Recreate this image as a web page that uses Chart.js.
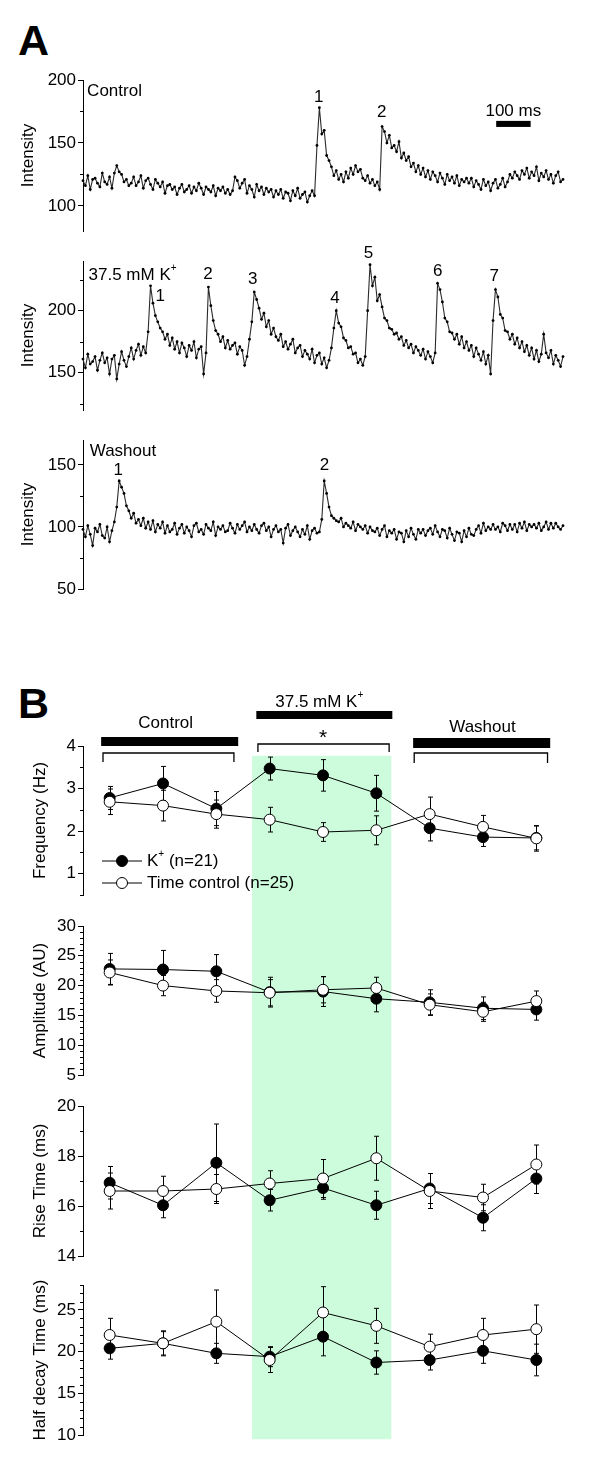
<!DOCTYPE html>
<html>
<head>
<meta charset="utf-8">
<title>Spark traces and summary</title>
<script src="https://cdn.jsdelivr.net/npm/chart.js@4.4.1/dist/chart.umd.min.js"></script>
<style>
  html, body { margin: 0; padding: 0; background: #fff; }
  body { position: relative; width: 600px; height: 1469px; overflow: hidden; font-family: "Liberation Sans", Arial, sans-serif; }
  .letter { position: absolute; left: 18px; font-size: 43px; font-weight: bold; line-height: 1; }
  .plot { position: absolute; left: 0; width: 600px; }
  .plot canvas { display: block; }
</style>
</head>
<body>
<div class="letter" style="top:19px">A</div>
<div class="letter" style="top:682px">B</div>

<div class="plot" style="top:60px"><canvas id="traceControl" width="600" height="185"></canvas></div>
<div class="plot" style="top:245px"><canvas id="traceK" width="600" height="180"></canvas></div>
<div class="plot" style="top:425px"><canvas id="traceWash" width="600" height="185"></canvas></div>

<div class="plot" style="top:660px"><canvas id="freq" width="600" height="250"></canvas></div>
<div class="plot" style="top:910px"><canvas id="amp" width="600" height="180"></canvas></div>
<div class="plot" style="top:1090px"><canvas id="rise" width="600" height="180"></canvas></div>
<div class="plot" style="top:1270px"><canvas id="decay" width="600" height="199"></canvas></div>

<script>
// ---- panel A: fluorescence traces, one sample every 7 ms ----
var sampleMs = 7;

var controlTrace = [
  120,116,124,113,121,122,118,115,126,119,117,123,114,126,132,127,125,119,121,116,
  118,123,116,119,124,114,120,122,117,113,121,118,115,119,110,116,117,113,115,109,
  114,117,111,113,116,110,115,112,118,114,109,115,113,111,116,108,114,112,115,110,
  113,109,112,123,120,114,118,121,110,116,113,107,117,112,115,109,114,111,113,107,
  112,109,113,106,111,110,104,112,108,114,106,109,111,103,108,112,108,148,178,157,
  160,140,136,131,124,128,121,125,119,127,122,130,125,132,127,129,122,120,124,118,
  121,116,119,113,163,159,150,156,146,148,143,151,138,142,136,139,131,134,127,132,
  125,130,123,128,121,127,124,119,126,122,117,125,120,123,118,124,116,121,119,122,
  118,122,115,120,117,113,121,116,119,112,118,121,114,117,122,115,119,125,122,127,
  124,121,128,125,130,122,127,124,131,120,126,123,128,121,125,118,124,127,119,121
];

var potassiumTrace = [
  161,154,165,157,159,163,152,160,166,158,162,149,161,164,145,157,167,160,155,163,
  170,161,168,173,164,171,166,183,220,206,196,191,186,183,177,181,172,178,169,175,
  166,174,170,163,172,168,175,162,169,171,149,166,219,204,192,184,181,175,179,170,
  176,169,172,174,165,171,168,156,163,177,191,215,209,202,193,198,187,192,181,186,
  179,176,181,171,175,169,173,177,166,170,172,163,168,165,161,169,158,164,166,157,
  162,154,160,170,186,200,190,187,178,176,170,171,165,166,158,161,156,163,200,237,
  220,227,208,213,203,194,192,186,185,181,182,177,179,172,176,170,173,166,171,168,
  164,169,161,167,163,158,166,222,217,207,194,191,183,182,177,181,173,179,170,175,
  168,172,163,170,165,160,167,157,164,149,192,217,211,197,194,184,183,177,181,173,
  178,170,175,167,172,164,170,161,168,159,165,181,166,162,168,157,164,160,155,163
];

var washoutTrace = [
  98,92,101,94,85,99,96,102,93,91,100,88,97,104,116,137,132,127,117,113,
  107,111,103,106,101,107,99,104,98,105,96,102,99,104,95,101,96,98,103,94,
  99,102,95,100,97,92,101,103,96,98,94,102,99,97,104,93,100,98,101,96,
  97,103,99,95,102,98,101,104,96,100,97,102,98,95,101,103,97,100,92,98,
  101,96,98,87,99,102,93,97,100,96,92,98,94,101,90,97,99,95,96,106,
  137,127,116,109,107,105,104,107,100,103,101,99,104,97,102,100,98,101,95,100,
  97,96,99,93,98,101,92,97,95,98,90,96,95,88,97,92,99,94,90,98,
  95,98,93,97,99,94,101,96,92,98,97,91,99,94,89,96,95,88,97,92,
  99,94,93,98,101,95,103,97,100,98,102,98,100,96,103,101,97,102,98,102,
  96,103,99,104,97,102,100,102,99,103,97,100,104,98,103,99,103,100,98,101
];

// ---- panel B: means and SEM at nine time points ----
var timePoints = [1, 2, 3, 4, 5, 6, 7, 8, 9];

var freqK      = [2.78, 3.12, 2.53, 3.47, 3.31, 2.89, 2.07, 1.86, 1.84];
var freqKErr   = [0.27, 0.40, 0.40, 0.27, 0.37, 0.42, 0.30, 0.22, 0.28];
var freqT      = [2.69, 2.60, 2.40, 2.27, 1.98, 2.02, 2.40, 2.10, 1.83];
var freqTErr   = [0.30, 0.36, 0.33, 0.29, 0.22, 0.34, 0.40, 0.27, 0.30];

var ampK       = [22.8, 22.7, 22.4, 18.9, 19.0, 17.8, 17.2, 16.2, 16.0];
var ampKErr    = [2.6, 3.2, 2.8, 2.5, 2.5, 2.2, 2.1, 1.9, 1.8];
var ampT       = [22.2, 20.0, 19.1, 18.8, 19.3, 19.6, 16.8, 15.6, 17.4];
var ampTErr    = [2.1, 1.7, 1.9, 2.2, 2.2, 1.8, 1.8, 1.6, 1.7];

var riseK      = [16.93, 16.03, 17.73, 16.23, 16.72, 16.03, 16.70, 15.53, 17.10];
var riseKErr   = [0.65, 0.50, 1.55, 0.43, 0.45, 0.56, 0.60, 0.52, 0.60];
var riseT      = [16.60, 16.60, 16.68, 16.90, 17.10, 17.91, 16.60, 16.34, 17.66];
var riseTErr   = [0.72, 0.59, 0.58, 0.51, 0.76, 0.88, 0.70, 0.53, 0.78];

var decayK     = [20.4, 21.0, 19.8, 19.4, 21.8, 18.7, 19.0, 20.1, 19.0];
var decayKErr  = [1.3, 1.4, 1.2, 1.2, 2.3, 1.4, 1.2, 1.5, 1.9];
var decayT     = [22.0, 21.0, 23.6, 19.0, 24.7, 23.1, 20.6, 22.0, 22.7];
var decayTErr  = [2.0, 1.5, 3.8, 1.5, 3.1, 2.1, 1.5, 2.0, 2.9];

// tick labels
var ticksControl = [100, 150, 200];
var ticksK = [150, 200];
var ticksWash = [50, 100, 150];
var ticksFreq = [1, 2, 3, 4];
var ticksAmp = [5, 10, 15, 20, 25, 30];
var ticksRise = [14, 16, 18, 20];
var ticksDecay = [10, 15, 20, 25];

var FONT = '"Liberation Sans", Arial, sans-serif';
Chart.defaults.font.family = FONT;
Chart.defaults.font.size = 17;
Chart.defaults.color = '#000';

function between(a, b, step, skip) {
  var out = [];
  for (var v = a; v <= b + 1e-9; v += step) {
    if (skip.indexOf(v) < 0) out.push(v);
  }
  return out;
}

// text with superscripts: odd entries of segs are raised
function drawRich(ctx, segs, x, y, align, size) {
  var small = Math.round(size * 0.6);
  var widths = segs.map(function (s, i) {
    ctx.font = (i % 2 ? small : size) + 'px ' + FONT;
    return ctx.measureText(s).width;
  });
  var total = widths.reduce(function (a, b) { return a + b; }, 0);
  var cx = align === 'center' ? x - total / 2 : x;
  ctx.textAlign = 'left';
  ctx.textBaseline = 'middle';
  segs.forEach(function (s, i) {
    ctx.font = (i % 2 ? small : size) + 'px ' + FONT;
    ctx.fillText(s, cx, i % 2 ? y - size * 0.4 : y);
    cx += widths[i];
  });
}

var minorTicks = {
  id: 'minorTicks',
  afterDraw: function (chart, args, opts) {
    var ctx = chart.ctx, ys = chart.scales.y, x0 = chart.chartArea.left;
    ctx.save();
    ctx.strokeStyle = '#000';
    ctx.lineWidth = 1;
    ctx.beginPath();
    (opts.values || []).forEach(function (v) {
      var py = Math.round(ys.getPixelForValue(v)) + 0.5;
      ctx.moveTo(x0 - 3, py);
      ctx.lineTo(x0, py);
    });
    ctx.stroke();
    ctx.restore();
  }
};

function yAxis(o) {
  return {
    min: o.min,
    max: o.max,
    afterFit: function (s) { s.width = 83; },
    afterBuildTicks: function (s) { s.ticks = o.majors.map(function (v) { return { value: v }; }); },
    ticks: { padding: 2, color: '#000', callback: function (v) { return String(v); } },
    grid: { drawOnChartArea: false, drawTicks: true, tickLength: 5, color: '#000', lineWidth: 1 },
    border: { display: true, color: '#000', width: 1 },
    title: { display: true, text: o.title, color: '#000', padding: { top: o.titlePad, bottom: 0 } }
  };
}

// ---- panel A ----
var traceNotes = {
  id: 'traceNotes',
  afterDraw: function (chart, args, opts) {
    var ctx = chart.ctx, xs = chart.scales.x, ys = chart.scales.y;
    ctx.save();
    ctx.fillStyle = '#000';
    (opts.items || []).forEach(function (n) {
      drawRich(ctx, n.segs, xs.getPixelForValue(n.x), ys.getPixelForValue(n.y), n.align || 'center', 17);
    });
    if (opts.bar) {
      var b = opts.bar;
      var x1 = xs.getPixelForValue(b.from), x2 = xs.getPixelForValue(b.from + b.ms / sampleMs);
      var y1 = ys.getPixelForValue(b.top), y2 = ys.getPixelForValue(b.bottom);
      ctx.fillRect(x1, y1, x2 - x1, y2 - y1);
    }
    ctx.restore();
  }
};

function traceChart(id, values, o) {
  return new Chart(document.getElementById(id), {
    type: 'line',
    data: {
      labels: values.map(function (v, i) { return i * sampleMs; }),
      datasets: [{
        data: values,
        borderColor: '#2a2a2a',
        borderWidth: 1.1,
        pointRadius: 1.4,
        pointBackgroundColor: '#000',
        pointBorderWidth: 0,
        tension: 0
      }]
    },
    options: {
      responsive: false,
      animation: false,
      events: [],
      layout: { padding: { top: o.padTop, bottom: o.padBottom, left: 0, right: 37 } },
      plugins: {
        legend: { display: false },
        tooltip: { enabled: false },
        minorTicks: { values: o.minors },
        traceNotes: { items: o.notes, bar: o.bar }
      },
      scales: {
        x: { display: false },
        y: yAxis({ min: o.min, max: o.max, majors: o.majors, title: 'Intensity', titlePad: 18 })
      }
    },
    plugins: [minorTicks, traceNotes]
  });
}

traceChart('traceControl', controlTrace, {
  min: 80, max: 200, majors: ticksControl, minors: [125, 175], padTop: 20, padBottom: 14,
  notes: [
    { segs: ['Control'], x: 1.7, y: 191.3, align: 'left' },
    { segs: ['1'], x: 97.7, y: 186.5 },
    { segs: ['2'], x: 123.8, y: 174.6 },
    { segs: ['100 ms'], x: 178.4, y: 175.4 }
  ],
  bar: { from: 171.3, ms: 100, top: 167.5, bottom: 162.7 }
});

traceChart('traceK', potassiumTrace, {
  min: 120, max: 240, majors: ticksK, minors: [125, 175, 225], padTop: 16, padBottom: 15,
  notes: [
    { segs: ['37.5 mM K', '+'], x: 2.3, y: 228.8, align: 'left' },
    { segs: ['1'], x: 32.0, y: 211.2 },
    { segs: ['2'], x: 51.8, y: 229.6 },
    { segs: ['3'], x: 70.4, y: 225.6 },
    { segs: ['4'], x: 104.5, y: 209.6 },
    { segs: ['5'], x: 118.4, y: 246.4 },
    { segs: ['6'], x: 147.1, y: 232.0 },
    { segs: ['7'], x: 170.5, y: 228.0 }
  ]
});

traceChart('traceWash', washoutTrace, {
  min: 50, max: 170, majors: ticksWash, minors: [75, 125], padTop: 15, padBottom: 21,
  notes: [
    { segs: ['Washout'], x: 2.8, y: 161.1, align: 'left' },
    { segs: ['1'], x: 14.6, y: 145.8 },
    { segs: ['2'], x: 100.1, y: 149.9 }
  ]
});

// ---- panel B ----
var greenBand = {
  id: 'greenBand',
  beforeDraw: function (chart, args, opts) {
    var ctx = chart.ctx, xs = chart.scales.x, ys = chart.scales.y;
    var x1 = xs.getPixelForValue(opts.from), x2 = xs.getPixelForValue(opts.to);
    var y1 = opts.top == null ? 0 : ys.getPixelForValue(opts.top);
    var y2 = opts.bottom == null ? chart.height : ys.getPixelForValue(opts.bottom);
    ctx.save();
    ctx.fillStyle = '#ccfcdc';
    ctx.fillRect(x1, y1, x2 - x1, y2 - y1);
    ctx.restore();
  }
};

var errorBars = {
  id: 'errorBars',
  beforeDatasetsDraw: function (chart) {
    var ctx = chart.ctx, xs = chart.scales.x, ys = chart.scales.y;
    ctx.save();
    ctx.strokeStyle = '#000';
    ctx.lineWidth = 1;
    chart.data.datasets.forEach(function (ds) {
      ds.data.forEach(function (p, i) {
        var e = ds.errors[i];
        var px = Math.round(xs.getPixelForValue(p.x)) + 0.5;
        var y1 = ys.getPixelForValue(p.y + e), y2 = ys.getPixelForValue(p.y - e);
        ctx.beginPath();
        ctx.moveTo(px, y1); ctx.lineTo(px, y2);
        ctx.moveTo(px - 2.5, y1); ctx.lineTo(px + 2.5, y1);
        ctx.moveTo(px - 2.5, y2); ctx.lineTo(px + 2.5, y2);
        ctx.stroke();
      });
    });
    ctx.restore();
  }
};

// period bars, brackets, titles and legend above / inside the frequency plot
var periodNotes = {
  id: 'periodNotes',
  afterDraw: function (chart, args, opts) {
    if (!opts.show) return;
    var ctx = chart.ctx, xs = chart.scales.x, top = chart.chartArea.top, left = chart.chartArea.left;
    ctx.save();
    ctx.fillStyle = '#000';
    ctx.strokeStyle = '#000';
    opts.bars.forEach(function (b) {
      var x1 = xs.getPixelForValue(b.from), x2 = xs.getPixelForValue(b.to);
      ctx.fillRect(x1, top + b.y1, x2 - x1, b.y2 - b.y1);
    });
    ctx.lineWidth = 1.3;
    opts.brackets.forEach(function (b) {
      var x1 = xs.getPixelForValue(b.from), x2 = xs.getPixelForValue(b.to), y = top + b.y;
      ctx.beginPath();
      ctx.moveTo(x1, y + b.drop); ctx.lineTo(x1, y); ctx.lineTo(x2, y); ctx.lineTo(x2, y + b.drop);
      ctx.stroke();
    });
    opts.texts.forEach(function (t) {
      drawRich(ctx, t.segs, xs.getPixelForValue(t.x), top + t.dy, 'center', t.size || 17);
    });
    // legend
    chart.data.datasets.slice().reverse().forEach(function (ds, i) {
      var y = top + opts.legendRows[i];
      ctx.lineWidth = 1;
      ctx.beginPath();
      ctx.moveTo(left + 19, y); ctx.lineTo(left + 59, y);
      ctx.stroke();
      ctx.beginPath();
      ctx.arc(left + 39, y, 5.5, 0, Math.PI * 2);
      ctx.fillStyle = ds.pointBackgroundColor;
      ctx.fill();
      ctx.stroke();
      ctx.fillStyle = '#000';
      drawRich(ctx, ds.legendSegs, left + 64, y, 'left', 17);
    });
    ctx.restore();
  }
};

function points(values) {
  return timePoints.map(function (t, i) { return { x: t, y: values[i] }; });
}

function summaryChart(id, k, kErr, t, tErr, o) {
  return new Chart(document.getElementById(id), {
    type: 'line',
    data: {
      datasets: [{
        label: 'Time control (n=25)',
        legendSegs: ['Time control (n=25)'],
        data: points(t),
        errors: tErr,
        borderColor: '#000',
        borderWidth: 1,
        pointRadius: 5.5,
        pointBackgroundColor: '#fff',
        pointBorderColor: '#000',
        pointBorderWidth: 1
      }, {
        label: 'K+ (n=21)',
        legendSegs: ['K', '+', ' (n=21)'],
        data: points(k),
        errors: kErr,
        borderColor: '#000',
        borderWidth: 1,
        pointRadius: 5.5,
        pointBackgroundColor: '#000',
        pointBorderColor: '#000',
        pointBorderWidth: 1
      }]
    },
    options: {
      responsive: false,
      animation: false,
      events: [],
      layout: { padding: { top: o.padTop, bottom: o.padBottom, left: 0, right: 37 } },
      plugins: {
        legend: { display: false },
        tooltip: { enabled: false },
        minorTicks: { values: o.minors },
        greenBand: { from: 3.67, to: 6.28, top: o.bandTop, bottom: o.bandBottom },
        periodNotes: o.notes || { show: false }
      },
      scales: {
        x: { type: 'linear', min: 0.5, max: 9.5, display: false },
        y: yAxis({ min: o.min, max: o.max, majors: o.majors, title: o.title, titlePad: 30 })
      }
    },
    plugins: [greenBand, errorBars, minorTicks, periodNotes]
  });
}

summaryChart('freq', freqK, freqKErr, freqT, freqTErr, {
  title: 'Frequency (Hz)', min: 0.5, max: 4, majors: ticksFreq, minors: [0.5, 1.5, 2.5, 3.5],
  padTop: 86, padBottom: 15, bandTop: 3.77, bandBottom: null,
  notes: {
    show: true,
    bars: [
      { from: 0.84, to: 3.41, y1: -9, y2: 0 },
      { from: 3.75, to: 6.30, y1: -35, y2: -27 },
      { from: 6.69, to: 9.26, y1: -8, y2: 2 }
    ],
    brackets: [
      { from: 0.875, to: 3.33, y: 7, drop: 9 },
      { from: 3.78, to: 6.24, y: -2, drop: 8 },
      { from: 6.71, to: 9.21, y: 7, drop: 10 }
    ],
    texts: [
      { segs: ['Control'], x: 2.05, dy: -23 },
      { segs: ['37.5 mM K', '+'], x: 4.93, dy: -44 },
      { segs: ['Washout'], x: 7.99, dy: -19 },
      { segs: ['*'], x: 5.0, dy: -8, size: 21 }
    ],
    legendRows: [115, 137]
  }
});

summaryChart('amp', ampK, ampKErr, ampT, ampTErr, {
  title: 'Amplitude (AU)', min: 5, max: 30, majors: ticksAmp, minors: between(6, 29, 1, ticksAmp),
  padTop: 16, padBottom: 15, bandTop: null, bandBottom: null
});

summaryChart('rise', riseK, riseKErr, riseT, riseTErr, {
  title: 'Rise Time (ms)', min: 14, max: 20, majors: ticksRise, minors: [15, 17, 19],
  padTop: 16, padBottom: 14, bandTop: null, bandBottom: null
});

summaryChart('decay', decayK, decayKErr, decayT, decayTErr, {
  title: 'Half decay Time (ms)', min: 10, max: 28, majors: ticksDecay, minors: between(11, 28, 1, ticksDecay),
  padTop: 15, padBottom: 34, bandTop: null, bandBottom: 9.5
});
</script>
</body>
</html>
